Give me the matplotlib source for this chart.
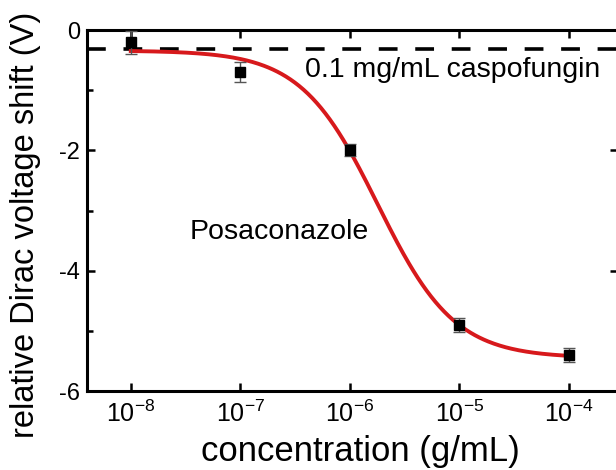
import matplotlib
matplotlib.use("Agg")
import matplotlib.pyplot as plt
from matplotlib.ticker import FixedLocator, MultipleLocator
import numpy as np

plt.rcParams['font.family'] = ['Liberation Sans', 'DejaVu Sans']
plt.rcParams['mathtext.fontset'] = 'custom'
plt.rcParams['mathtext.rm'] = 'Liberation Sans'
plt.rcParams['mathtext.it'] = 'Liberation Sans:italic'
plt.rcParams['mathtext.bf'] = 'Liberation Sans:bold'
plt.rcParams['axes.unicode_minus'] = False

# measured points (posaconazole)
conc = [1e-8, 1e-7, 1e-6, 1e-5, 1e-4]
shift = [-0.20, -0.70, -2.00, -4.90, -5.40]
shift_err = [0.19, 0.17, 0.10, 0.12, 0.12]

# sigmoidal fit parameters
fit_top = -0.34
fit_bottom = -5.45
fit_log_ec50 = -5.745
fit_slope = 1.235

# caspofungin reference level
caspo_level = -0.32

xtick_exp = [-8, -7, -6, -5, -4]

fig = plt.figure(figsize=(6.16, 4.70), dpi=100)
ax = fig.add_axes([0.1412, 0.168, 0.862, 0.768])

# reference line
ax.axhline(caspo_level, color='black', lw=2.6, ls=(0, (5.2, 4.9)), zorder=2)

# fitted curve
logx = np.linspace(np.log10(conc[0]), np.log10(conc[-1]), 300)
fit_y = fit_bottom + (fit_top - fit_bottom) / (1 + 10 ** ((logx - fit_log_ec50) * fit_slope))
ax.plot(10 ** logx, fit_y, color='#d7191c', lw=2.8, zorder=3)

# data
ax.errorbar(conc, shift, yerr=shift_err, fmt='s', color='black', ms=7.5,
            ecolor='#555555', elinewidth=1.0, capsize=4, capthick=1.0, zorder=4)

ax.text(10 ** -6.41, -0.66, '0.1 mg/mL caspofungin', ha='left', va='center', fontsize=20.5)
ax.text(10 ** -7.46, -3.35, 'Posaconazole', ha='left', va='center', fontsize=20.5)

ax.set_xscale('log')
ax.set_xlim(10 ** -8.40, 10 ** -3.55)
ax.set_ylim(-6, 0)

ax.xaxis.set_major_locator(FixedLocator([10.0 ** e for e in xtick_exp]))
ax.xaxis.set_minor_locator(FixedLocator([]))
ax.set_xticklabels([r'$10^{%d}$' % e for e in xtick_exp])
ax.yaxis.set_major_locator(MultipleLocator(2))
ax.yaxis.set_minor_locator(MultipleLocator(1))

ax.tick_params(which='both', direction='in', top=True, right=True, width=1.8)
ax.tick_params(which='major', length=6, pad=7)
ax.tick_params(which='minor', length=4, right=False)
ax.tick_params(axis='x', labelsize=18)
ax.tick_params(axis='y', labelsize=17, pad=5)

for s in ax.spines.values():
    s.set_linewidth(2.2)

ax.set_xlabel('concentration (g/mL)', fontsize=25)
ax.xaxis.set_label_coords(0.515, -0.122)
ax.set_ylabel('relative Dirac voltage shift (V)', fontsize=23.5)
ax.yaxis.set_label_coords(-0.087, 0.46)

fig.savefig('out.png', dpi=100)
